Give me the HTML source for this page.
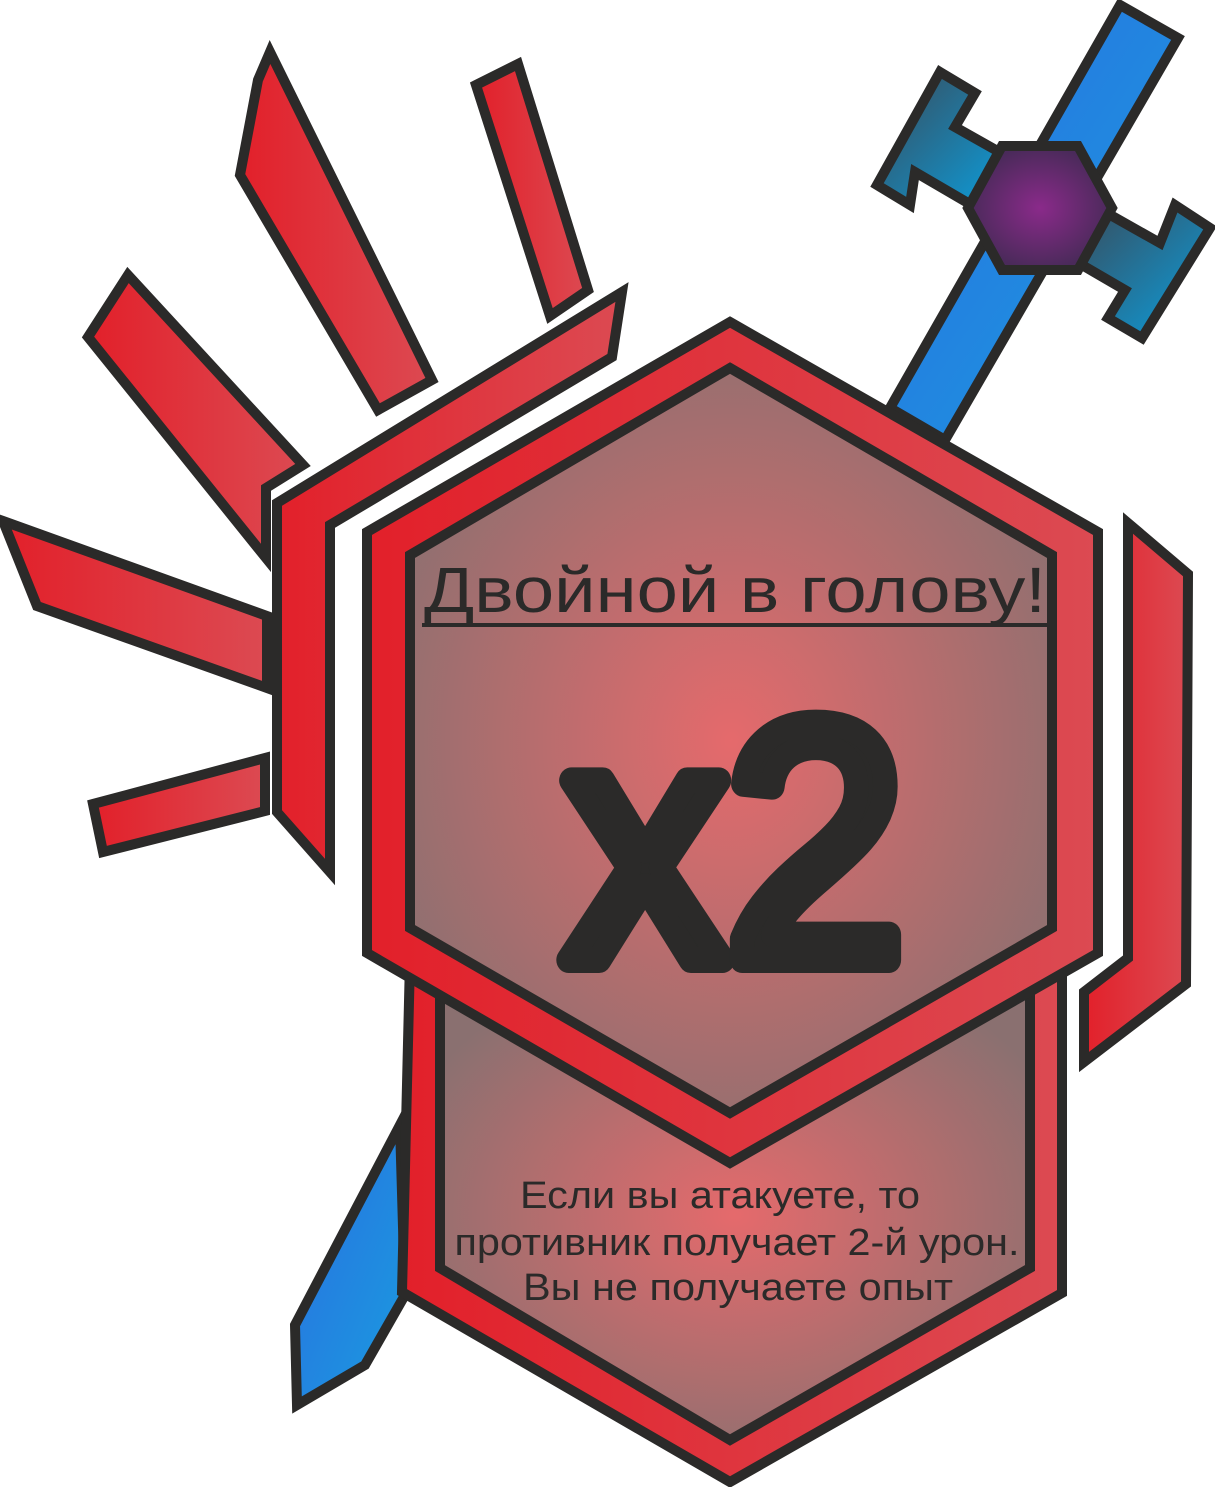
<!DOCTYPE html>
<html><head><meta charset="utf-8"><style>
html,body{margin:0;padding:0;background:#fff;}
svg{display:block;}
</style></head><body>
<svg width="1215" height="1487" viewBox="0 0 1215 1487" xmlns="http://www.w3.org/2000/svg">
<defs>
<linearGradient id="red" x1="0" y1="0" x2="1" y2="0">
<stop offset="0" stop-color="#e2202a"/><stop offset="1" stop-color="#dc4a52"/></linearGradient>
<radialGradient id="fill" cx="0.5" cy="0.5" r="0.6">
<stop offset="0" stop-color="#e56a6c"/><stop offset="1" stop-color="#8a7070"/></radialGradient>
<linearGradient id="blue" x1="0" y1="0" x2="1" y2="1">
<stop offset="0" stop-color="#2a6fe0"/><stop offset="1" stop-color="#1a9be0"/></linearGradient>
<linearGradient id="teal" x1="0" y1="0" x2="1" y2="1">
<stop offset="0" stop-color="#3a4a58"/><stop offset="1" stop-color="#0aa0e0"/></linearGradient>
<radialGradient id="purple"><stop offset="0" stop-color="#8a2a8a"/><stop offset="1" stop-color="#4a2a5a"/></radialGradient>
</defs>
<g stroke="#2b2a29" stroke-width="10" stroke-linejoin="miter" fill="url(#red)">
<polygon points="1120,5 1178,38 945,440 890,408" fill="url(#blue)"/>
<polygon points="940,72 975,93 955,127 1010,158 980,210 915,172 910,205 877,185" fill="url(#teal)"/>
<polygon points="1175,205 1210,228 1142,338 1108,318 1125,290 1070,258 1098,208 1160,243" fill="url(#teal)"/>
<polygon points="1002,146 1078,146 1112,208 1078,270 1002,270 968,208" fill="url(#purple)"/>
<polygon points="400,1125 405,1295 365,1365 297,1405 295,1325" fill="url(#blue)"/>
<polygon points="270,52 432,380 378,410 240,175 258,80"/>
<polygon points="476,85 518,64 588,290 550,316"/>
<polygon points="128,275 303,465 266,488 266,558 88,337"/>
<polygon points="3,521 267,616 267,688 37,606"/>
<polygon points="93,804 265,758 265,811 103,852"/>
<polygon points="622,292 612,357 330,525 330,872 277,812 277,503"/>
<polygon points="1128,523 1188,574 1186,984 1084,1062 1084,992 1128,958"/>
<polygon points="410,960 1062,960 1062,1293 730,1482 402,1292"/>
<polygon points="440,990 1030,990 1030,1268 730,1440 440,1268" fill="url(#fill)"/>
<polygon points="730,322 1098,532 1098,953 730,1163 367,953 367,532"/>
<polygon points="730,368 1052,555 1052,928 730,1113 410,928 410,555" fill="url(#fill)"/>
</g>
<g fill="#2b2a29" font-family="'Liberation Sans','Noto Sans CJK SC',sans-serif" text-anchor="middle">
<text x="735" y="612" font-size="64" textLength="622" lengthAdjust="spacingAndGlyphs">Двойной в голову!</text>
<line x1="422" y1="625" x2="1048" y2="625" stroke="#2b2a29" stroke-width="4"/>
<text x="735" y="960" font-size="340" stroke="#2b2a29" stroke-width="26" stroke-linejoin="round" textLength="340" lengthAdjust="spacingAndGlyphs">x2</text>
<text x="720" y="1208" font-size="38" textLength="400" lengthAdjust="spacingAndGlyphs">Если вы атакуете, то</text>
<text x="737" y="1255" font-size="38" textLength="565" lengthAdjust="spacingAndGlyphs">противник получает 2-й урон.</text>
<text x="738" y="1300" font-size="38" textLength="430" lengthAdjust="spacingAndGlyphs">Вы не получаете опыт</text>
</g>
</svg>
</body></html>
